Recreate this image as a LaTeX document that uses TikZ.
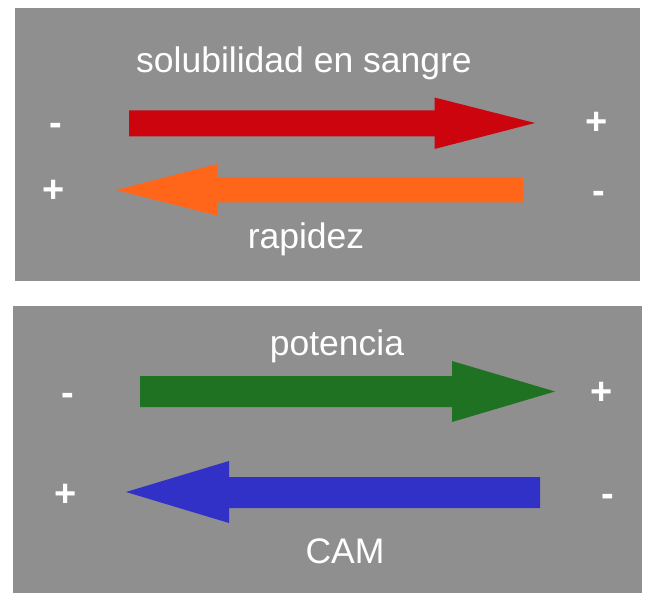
\documentclass[tikz,border=0pt]{standalone}
\usepackage{fontspec}
\setmainfont{Liberation Sans}
\definecolor{panelgray}{RGB}{143,143,143}
\definecolor{arred}{RGB}{204,4,14}
\definecolor{arorange}{RGB}{255,102,26}
\definecolor{argreen}{RGB}{31,114,34}
\definecolor{arblue}{RGB}{49,49,200}
\tikzset{
  panel/.style={fill=panelgray, draw=none},
  lbl/.style={text=white, font=\fontsize{35.5}{40}\selectfont, anchor=base, inner sep=0pt},
  sgn/.style={text=white, font=\bfseries\fontsize{38}{42}\selectfont, anchor=base, inner sep=0pt},
}
\begin{document}
\begin{tikzpicture}[x=1pt,y=-1pt]
\useasboundingbox[fill=white] (0,0) rectangle (656,604);
% panels
\path[panel] (15,8) rectangle (640,281);
\path[panel] (13,306) rectangle (642,593);
% arrows
\fill[arred] (129,110.5) -- (434.5,110.5) -- (434.5,97.5) -- (535,123) -- (434.5,149) -- (434.5,136.5) -- (129,136.5) -- cycle;
\fill[arorange] (523,177.5) -- (217,177.5) -- (217,164) -- (116,190) -- (217,215.5) -- (217,202.5) -- (523,202.5) -- cycle;
\fill[argreen] (140,376) -- (452,376) -- (452,361) -- (555,391.5) -- (452,422) -- (452,407) -- (140,407) -- cycle;
\fill[arblue] (540,477) -- (229,477) -- (229,461) -- (126,492) -- (229,523) -- (229,508) -- (540,508) -- cycle;
% labels
\node[lbl] (t1) at (304,73) {solubilidad en sangre};
\node[lbl] (t2) at (306,248) {rapidez};
\node[lbl] (t3) at (337,355) {potencia};
\node[lbl] (t4) at (345,563) {CAM};
% signs
\node[sgn] (s1) at (56,135.5) {-};
\node[sgn] (s2) at (597,134.5) {+};
\node[sgn] (s3) at (54,202.5) {+};
\node[sgn] (s4) at (599,203.5) {-};
\node[sgn] (s5) at (67.5,405.5) {-};
\node[sgn] (s6) at (602,404.5) {+};
\node[sgn] (s7) at (66,506.5) {+};
\node[sgn] (s8) at (608,506.5) {-};
\end{tikzpicture}
\end{document}
